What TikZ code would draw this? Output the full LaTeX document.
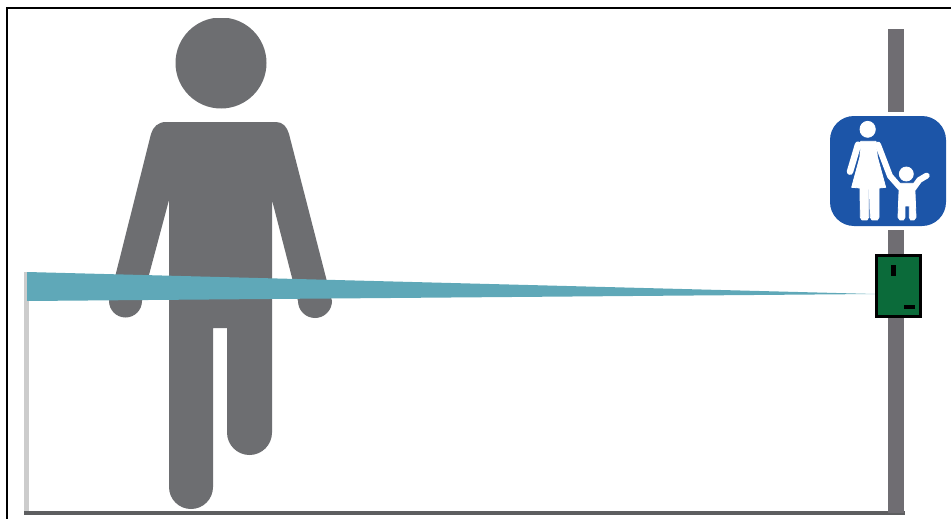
\documentclass[tikz,border=0pt]{standalone}
\definecolor{figgray}{HTML}{6D6E71}
\definecolor{polegray}{HTML}{6F6D72}
\definecolor{beamteal}{HTML}{5FA8B8}
\definecolor{signblue}{HTML}{1C55A8}
\definecolor{boxgreen}{HTML}{0B6B3A}
\tikzset{
  figure/.style={fill=figgray,draw=none},
  pict/.style={fill=white,draw=white,line width=0.8pt,line join=round},
  pictline/.style={draw=white,line cap=round,line join=round},
}
\begin{document}
\begin{tikzpicture}[x=1pt,y=-1pt]
\useasboundingbox (0,0) rectangle (951,519);
\fill[white] (0,0) rectangle (951,519);
% frame
\draw[black,line width=2pt] (7,519) -- (7,8.5) -- (951,8.5);
% reference line
\fill[black!20] (24,272) rectangle (29,513);
% person
\begin{scope}
\clip (100,18.5) rectangle (340,520);
\fill[figure] (221,63) circle (45.5);
\end{scope}
\fill[figure] (166,122) -- (276,122) .. controls (283,122) and (287,127) .. (289,134)
  -- (332,301) arc (0:180:17) -- (272,200) -- (272,432.5) arc (0:180:22.5) -- (227,328) -- (213,328)
  -- (213,487) arc (0:180:22) -- (169,200) -- (142,301) arc (0:180:16.5)
  -- (151,134) .. controls (153,127) and (158,122) .. (166,122) -- cycle;
% ground
\fill[figgray!85!black] (24,511) rectangle (905,514.5);
% pole
\fill[polegray] (888,29) rectangle (904,112);
\fill[polegray] (888,230) rectangle (904,513);
% beam
\fill[beamteal] (27,272) -- (875,294) -- (27,301) -- cycle;
% sign
\fill[signblue,rounded corners=24pt] (830,116) rectangle (946,226);
\begin{scope}[shift={(820,100)},x=0.3333pt,y=-0.3333pt]
  \fill[pict] (143,88) ellipse (23 and 24);
  \filldraw[pict] (122,124) -- (168,124) -- (172,170) -- (197,262) -- (177,264) -- (177,352)
    -- (172,360) -- (156,360) -- (151,352) -- (149,268) -- (146,268) -- (146,352) -- (141,360) -- (126,360) -- (121,352) -- (120,264) -- (95,262) -- (120,170) -- cycle;
  \draw[pictline,line width=6.5pt] (114,134) -- (90,215);
  \draw[pictline,line width=6pt] (174,134) -- (210,228) -- (240,262);
  \fill[pict] (259,222) circle (21);
  \filldraw[pict] (238,250) -- (284,250) -- (288,352) -- (282,360) -- (272,360) -- (268,352) -- (268,318) -- (255,318) -- (255,352) -- (250,360) -- (240,360) -- (234,352) -- cycle;
  \draw[pictline,line width=6pt] (280,265) -- (298,240) -- (320,227);
\end{scope}
% sensor box
\filldraw[fill=boxgreen,draw=black,line width=2.5pt] (876.5,255.5) rectangle (920.5,316.5);
\fill[black] (890.5,265) rectangle (895.5,276);
\fill[black] (904,304.5) rectangle (915,309);
\end{tikzpicture}
\end{document}
